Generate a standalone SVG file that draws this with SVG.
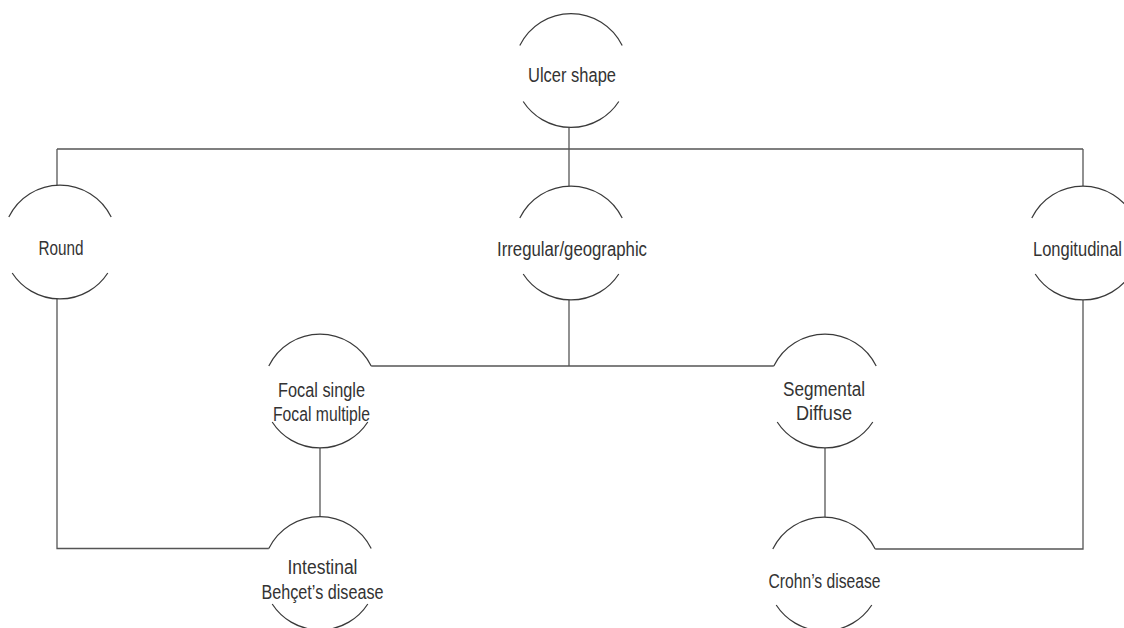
<svg xmlns="http://www.w3.org/2000/svg" width="1124" height="628" viewBox="0 0 1124 628">
<style>
.arc{fill:none;stroke:#3a3a3a;stroke-width:1.2}
.con{fill:none;stroke:#555;stroke-width:1.3}
text{font-family:"Liberation Sans",Arial,sans-serif;font-size:20px;fill:#333;text-anchor:middle}
</style>
<rect width="1124" height="628" fill="#fff"/>
<g id="connectors">
<path class="con" d="M569,127.5 V186"/>
<path class="con" d="M57,149 H1083"/>
<path class="con" d="M57,149 V185"/>
<path class="con" d="M1083,149 V186"/>
<path class="con" d="M57,299 V548.5 H268.8"/>
<path class="con" d="M569,300 V366"/>
<path class="con" d="M371.2,366 H773.8"/>
<path class="con" d="M320,448 V516"/>
<path class="con" d="M825,448 V517"/>
<path class="con" d="M875.2,549 H1083 V300"/>
</g>
<g id="n-ulcer">
<path class="arc" d="M519.8,45.5 A57,57 0 0 1 622.2,45.5 M523.2,101.5 A57,57 0 0 0 618.8,101.5"/>
<text x="572" y="82" textLength="88" lengthAdjust="spacingAndGlyphs">Ulcer shape</text>
</g>
<g id="n-round">
<path class="arc" d="M8.8,217 A57,57 0 0 1 111.2,217 M12.2,273 A57,57 0 0 0 107.8,273"/>
<text x="61" y="255" textLength="45" lengthAdjust="spacingAndGlyphs">Round</text>
</g>
<g id="n-irregular">
<path class="arc" d="M519.8,218 A57,57 0 0 1 622.2,218 M523.2,274 A57,57 0 0 0 618.8,274"/>
<text x="572" y="256" textLength="150" lengthAdjust="spacingAndGlyphs">Irregular/geographic</text>
</g>
<g id="n-longitudinal">
<path class="arc" d="M1031.8,218 A57,57 0 0 1 1134.2,218 M1035.2,274 A57,57 0 0 0 1130.8,274"/>
<text x="1033" y="256" textLength="89" lengthAdjust="spacingAndGlyphs" style="text-anchor:start">Longitudinal</text>
</g>
<g id="n-focal">
<path class="arc" d="M268.8,366 A57,57 0 0 1 371.2,366 M272.2,422 A57,57 0 0 0 367.8,422"/>
<text x="321.5" y="397" textLength="87" lengthAdjust="spacingAndGlyphs">Focal single</text>
<text x="321.5" y="421" textLength="97" lengthAdjust="spacingAndGlyphs">Focal multiple</text>
</g>
<g id="n-segmental">
<path class="arc" d="M773.8,366 A57,57 0 0 1 876.2,366 M777.2,422 A57,57 0 0 0 872.8,422"/>
<text x="824" y="396" textLength="82" lengthAdjust="spacingAndGlyphs">Segmental</text>
<text x="824" y="420" textLength="56" lengthAdjust="spacingAndGlyphs">Diffuse</text>
</g>
<g id="n-intestinal">
<path class="arc" d="M268.8,548.5 A57,57 0 0 1 371.2,548.5 M272.2,604 A57,57 0 0 0 367.8,604"/>
<text x="322.5" y="574" textLength="70" lengthAdjust="spacingAndGlyphs">Intestinal</text>
<text x="322.5" y="599" textLength="122" lengthAdjust="spacingAndGlyphs">Behçet’s disease</text>
</g>
<g id="n-crohn">
<path class="arc" d="M772.8,549 A57,57 0 0 1 875.2,549 M776.2,605 A57,57 0 0 0 871.8,605"/>
<text x="824.5" y="588" textLength="112" lengthAdjust="spacingAndGlyphs">Crohn’s disease</text>
</g>
</svg>
